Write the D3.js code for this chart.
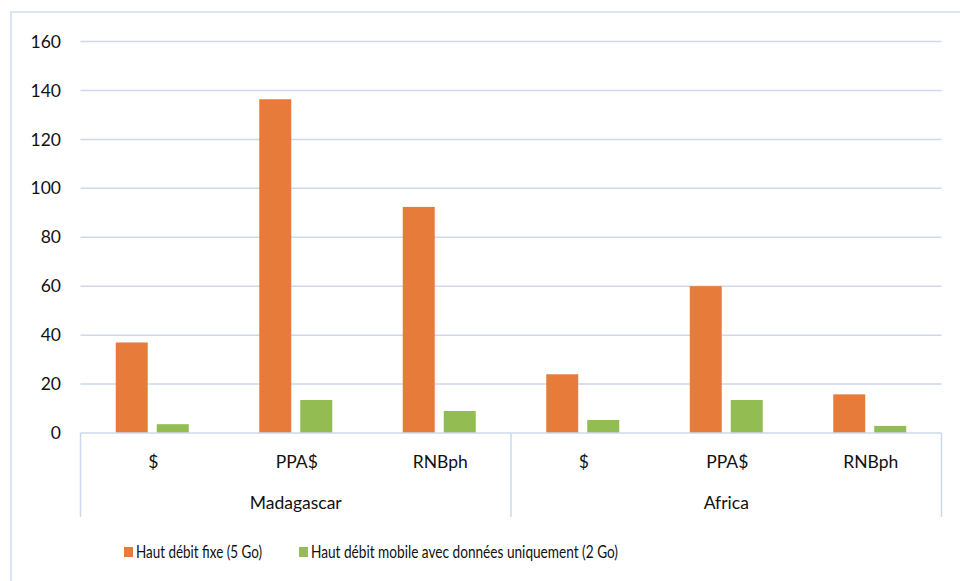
<!DOCTYPE html>
<html>
<head>
<meta charset="utf-8">
<script src="https://d3js.org/d3.v7.min.js"></script>
<style>
  body { margin: 0; background: #fff; }
  text { font-family: Lato, "Open Sans", sans-serif; fill: #111; }
</style>
</head>
<body>
<svg width="960" height="581"></svg>
<script>
var groups = ['Madagascar', 'Africa'];
var measures = ['$', 'PPA$', 'RNBph'];
var seriesNames = ['Haut débit fixe (5 Go)', 'Haut débit mobile avec données uniquement (2 Go)'];
var fixe = [37.0, 136.4, 92.4, 24.0, 60.0, 15.8];
var mobile = [3.6, 13.5, 9.0, 5.3, 13.5, 2.9];
var yTicks = [0, 20, 40, 60, 80, 100, 120, 140, 160];
var colors = ['#e77c3a', '#93bd52'];

var svg = d3.select('svg');
var plotLeft = 80.5, plotRight = 941.5, plotTop = 41.5, plotBottom = 433;

// border of chart area (runs off the right/bottom edge)
svg.append('rect')
  .attr('x', 11).attr('y', 12).attr('width', 970).attr('height', 600)
  .attr('fill', 'none').attr('stroke', '#d0dcef').attr('stroke-width', 1.5);

var cats = [];
groups.forEach(function(g) {
  measures.forEach(function(m) { cats.push(g + '|' + m); });
});

var x0 = d3.scaleBand().domain(cats).range([plotLeft, plotRight]).padding(0);
var x1 = d3.scaleBand().domain([0, 1]).range([0, x0.bandwidth()])
  .paddingInner(9 / 41).paddingOuter(0.86);
var y = d3.scaleLinear().domain([0, 160]).range([plotBottom, plotTop]);

// gridlines
svg.append('g').selectAll('line').data(yTicks.slice(1)).enter().append('line')
  .attr('x1', plotLeft).attr('x2', plotRight)
  .attr('y1', function(d) { return y(d); }).attr('y2', function(d) { return y(d); })
  .attr('stroke', '#cdd8ec').attr('stroke-width', 1.5);

// y labels
svg.append('g').selectAll('text').data(yTicks).enter().append('text')
  .attr('x', 61).attr('y', function(d) { return y(d); })
  .attr('dy', '0.35em').attr('text-anchor', 'end')
  .style('font-size', '17.5px')
  .text(function(d) { return d; });

// bars
var rows = cats.map(function(c, i) { return { cat: c, vals: [fixe[i], mobile[i]] }; });
var bars = svg.append('g').selectAll('g').data(rows).enter().append('g')
  .attr('transform', function(d) { return 'translate(' + x0(d.cat) + ',0)'; });
bars.selectAll('rect').data(function(d) { return d.vals; }).enter().append('rect')
  .attr('x', function(d, i) { return x1(i); })
  .attr('width', x1.bandwidth())
  .attr('y', function(d) { return y(d); })
  .attr('height', function(d) { return plotBottom - y(d); })
  .attr('fill', function(d, i) { return colors[i]; });

// x axis line and group separators
var axisColor = '#cdd8ec';
svg.append('line').attr('x1', plotLeft).attr('x2', plotRight)
  .attr('y1', plotBottom).attr('y2', plotBottom)
  .attr('stroke', axisColor).attr('stroke-width', 1.5);
var seps = [plotLeft, x0(groups[1] + '|' + measures[0]), plotRight];
svg.append('g').selectAll('line').data(seps).enter().append('line')
  .attr('x1', function(d) { return d; }).attr('x2', function(d) { return d; })
  .attr('y1', plotBottom).attr('y2', 517)
  .attr('stroke', axisColor).attr('stroke-width', 1.5);

// category labels
svg.append('g').selectAll('text').data(cats).enter().append('text')
  .attr('x', function(d) { return x0(d) + x0.bandwidth() / 2 + 1; })
  .attr('y', 462).attr('dy', '0.35em').attr('text-anchor', 'middle')
  .style('font-size', '17.5px')
  .text(function(d) { return d.split('|')[1]; });

// group labels
svg.append('g').selectAll('text').data(groups).enter().append('text')
  .attr('x', function(d) {
    var a = x0(d + '|' + measures[0]);
    var b = x0(d + '|' + measures[measures.length - 1]) + x0.bandwidth();
    return (a + b) / 2;
  })
  .attr('y', 503).attr('dy', '0.35em').attr('text-anchor', 'middle')
  .style('font-size', '17.5px')
  .text(function(d) { return d; });

// legend
var legendX = [124, 299];
var legendW = [126, 307];
var lg = svg.append('g').selectAll('g').data(seriesNames).enter().append('g')
  .attr('transform', function(d, i) { return 'translate(' + legendX[i] + ',547)'; });
lg.append('rect').attr('width', 9).attr('height', 10)
  .attr('fill', function(d, i) { return colors[i]; });
lg.append('text').attr('x', 12).attr('y', 5).attr('dy', '0.35em')
  .style('font-size', '18px')
  .attr('textLength', function(d, i) { return legendW[i]; })
  .attr('lengthAdjust', 'spacingAndGlyphs')
  .text(function(d) { return d; });
</script>
</body>
</html>
